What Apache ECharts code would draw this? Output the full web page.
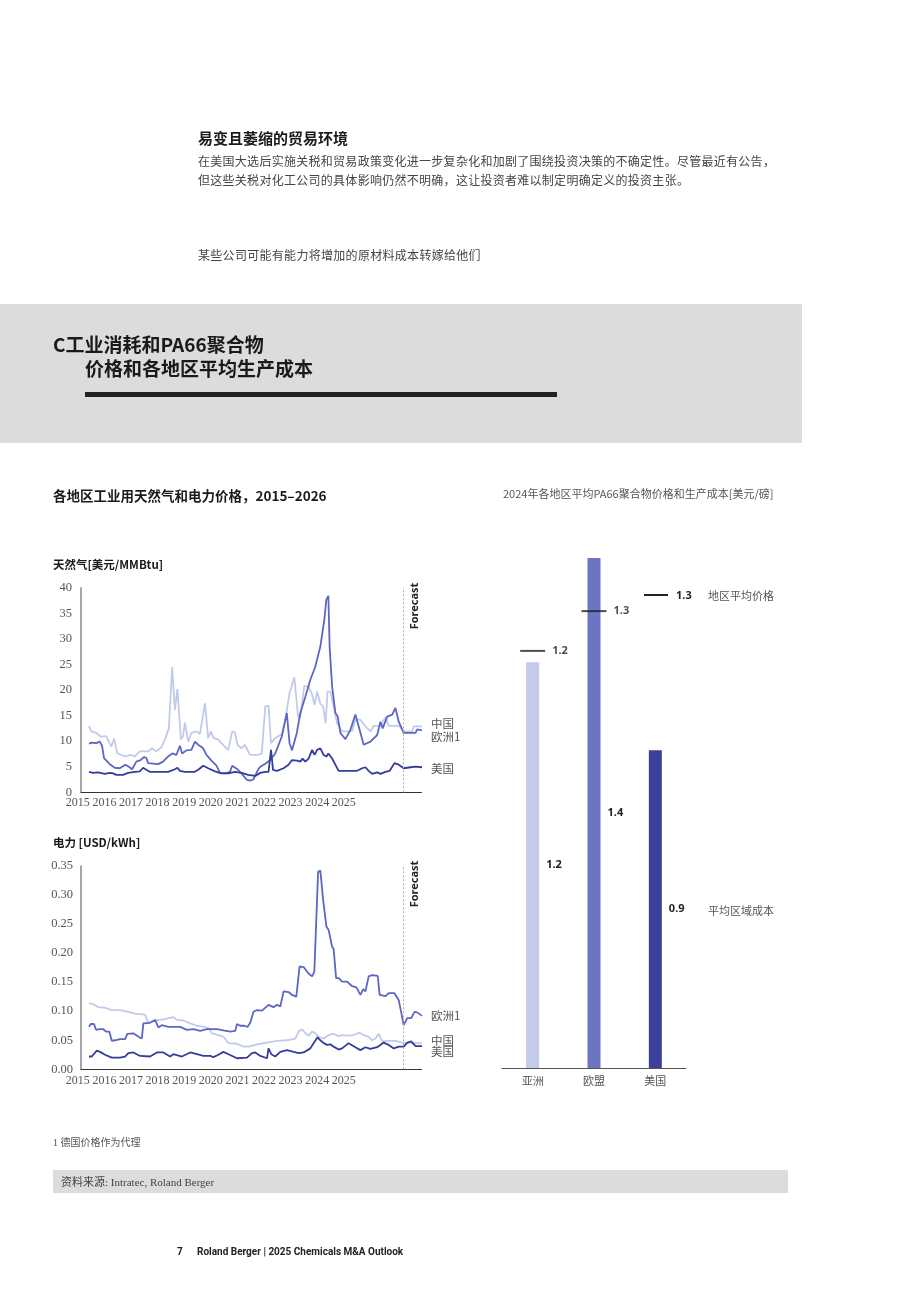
<!DOCTYPE html>
<html><head><meta charset="utf-8">
<script src="https://cdn.jsdelivr.net/npm/echarts@6/dist/echarts.min.js"></script>
<style>
html,body{margin:0;padding:0;background:#fff;}
body{width:920px;height:1302px;position:relative;overflow:hidden;font-family:"Noto Sans CJK SC","Noto Sans",sans-serif;}
.t{position:absolute;white-space:nowrap;z-index:3;}
.band{position:absolute;background:#dcdcdc;z-index:1;}
#chart{position:absolute;left:0;top:0;width:920px;height:1302px;z-index:2;}
</style></head>
<body>
<div class="t" style="left:198px;top:128px;font-size:15px;line-height:20px;font-weight:700;color:#1a1a1a;">易变且萎缩的贸易环境</div>
<div class="t" style="left:198px;top:151px;font-size:12px;line-height:19px;color:#444;letter-spacing:0.28px;">在美国大选后实施关税和贸易政策变化进一步复杂化和加剧了围绕投资决策的不确定性。尽管最近有公告，<br>但这些关税对化工公司的具体影响仍然不明确，这让投资者难以制定明确定义的投资主张。</div>
<div class="t" style="left:198px;top:245px;font-size:12px;line-height:19px;color:#444;letter-spacing:0.3px;">某些公司可能有能力将增加的原材料成本转嫁给他们</div>
<div class="band" style="left:0;top:304px;width:802px;height:139px;"></div>
<div class="t" style="left:53px;top:332px;font-size:19px;line-height:24px;font-weight:700;color:#1a1a1a;">C工业消耗和PA66聚合物</div>
<div class="t" style="left:85px;top:356px;font-size:19px;line-height:24px;font-weight:700;color:#1a1a1a;">价格和各地区平均生产成本</div>
<div class="t" style="left:85px;top:392px;width:472px;height:5px;background:#222;"></div>
<div class="t" style="left:53px;top:1136px;font-size:10px;line-height:14px;color:#555;font-family:'Liberation Serif','Noto Sans CJK SC',serif;">1 德国价格作为代理</div>
<div class="band" style="left:53px;top:1170px;width:735px;height:23px;"></div>
<div class="t" style="left:61px;top:1174px;font-size:11px;line-height:16px;color:#444;font-family:'Liberation Serif','Noto Sans CJK SC',serif;">资料来源: Intratec, Roland Berger</div>
<div class="t" style="left:177px;top:1245px;font-size:10px;line-height:14px;font-weight:700;color:#222;font-family:'Liberation Sans Narrow','Roboto','Noto Sans',sans-serif;">7</div>
<div class="t" style="left:197px;top:1245px;font-size:10px;line-height:14px;font-weight:700;color:#222;font-family:'Liberation Sans Narrow','Roboto','Noto Sans',sans-serif;">Roland Berger | 2025 Chemicals M&amp;A Outlook</div>
<div id="chart"></div>
<script>
// ---- data (x = months since Jan 2015) ----
const yearLabels = [2015, 2016, 2017, 2018, 2019, 2020, 2021, 2022, 2023, 2024, 2025];
const forecastStartMonth = 125.7;
const seriesNames = ['中国', '欧洲1', '美国'];

const gasChina = [[0,13.0],[0.9,11.9],[2.9,11.6],[4.7,10.9],[6.9,11.0],[8.9,8.9],[10,10.5],[11.3,7.6],[14.3,7.0],[16.9,7.3],[18.3,7.0],[20.3,8.0],[23.6,8.0],[25.2,8.6],[26.9,8.0],[28.9,8.8],[30.3,10.3],[31.9,12.5],[33.2,24.5],[34.3,16.1],[35.3,20.2],[36.7,10.3],[37.5,10.9],[38.3,13.6],[39.6,9.9],[40.9,11.6],[42.9,11.9],[44.3,11.4],[46.3,17.4],[47.6,10.6],[48.7,11.9],[49.6,10.7],[51.6,10.3],[54.3,8.9],[55.6,8.3],[57.2,11.9],[58.3,11.7],[59.3,9.3],[60.9,8.6],[62.2,9.3],[64.3,7.3],[67.6,7.3],[69,7.6],[70.4,16.8],[71.7,16.9],[72.7,9.6],[74.4,10.6],[77.1,11.4],[78.4,14.2],[80.1,19.4],[82,22.5],[83.5,14.8],[84.4,14.7],[86,20.8],[87.7,20.6],[89.1,19.1],[90.1,17.1],[91.1,19.7],[92.4,17.3],[93.5,16.8],[94.5,13.5],[95.3,19.7],[96.4,19.7],[97.7,16.8],[99.1,13.5],[101.1,11.9],[103.1,11.9],[105.1,12.0],[106.4,14.2],[108.4,14.2],[110.4,12.9],[112.4,11.9],[113.7,13.0],[116.4,13.0],[118.4,14.7],[119.7,13.0],[123.7,13.0],[125.7,11.9],[129.1,11.9],[129.7,12.9],[133,12.9]];
const gasEurope = [[0,9.5],[0.9,9.7],[2.9,9.6],[4.3,9.9],[5.2,9.1],[6,6.7],[8.3,5.5],[10.3,4.8],[12.3,4.7],[14.5,5.4],[15.9,5.0],[17.2,4.5],[18.9,6.0],[20.6,6.3],[22,6.9],[22.9,6.7],[23.6,5.7],[27.6,5.5],[29.6,6.0],[31.6,7.0],[33.3,7.6],[34.9,7.3],[36.3,9.1],[37.2,7.6],[38.9,8.2],[40.9,8.3],[42.3,9.9],[43.6,9.3],[45.6,8.6],[46.9,7.3],[48.9,6.2],[50.9,5.2],[52.3,3.8],[54.3,3.7],[56.3,4.0],[57.2,5.2],[59.3,4.5],[60.9,3.7],[62.9,2.5],[64.3,2.3],[65.6,2.5],[67.6,4.5],[68.4,5.0],[70.4,5.6],[72.4,6.3],[74.4,7.6],[77,10.9],[79,15.5],[80.1,9.6],[81.1,8.2],[83,11.6],[84.4,15.5],[86.4,18.7],[88.4,22.0],[90.4,24.6],[92.4,28.5],[94,33.8],[94.8,37.7],[95.6,38.4],[96.1,28.5],[97.1,20.7],[98.4,15.5],[99.3,14.9],[100.4,11.6],[102.4,10.4],[104.4,12.2],[106.4,15.2],[107.7,12.9],[109.7,9.3],[112.4,9.9],[115.1,11.2],[116.4,13.8],[117.3,12.5],[119.1,14.8],[121.1,15.2],[122.4,16.5],[123.7,13.8],[125.7,11.6],[130.4,11.6],[131.1,12.3],[133,12.1]];
const gasUS = [[0,4.0],[1.6,3.8],[3.6,3.9],[6.3,3.6],[8.3,3.8],[9.6,3.7],[10.9,3.4],[13.6,3.4],[15.6,3.8],[18.3,4.0],[20.3,4.1],[21.6,4.8],[22.9,4.4],[24.3,4.0],[31.6,4.0],[34.3,4.5],[35.3,4.8],[36.3,4.2],[38.3,4.0],[42.3,4.0],[43.9,4.5],[45.6,5.2],[47.6,4.7],[50.3,4.1],[52.9,3.7],[55.6,3.7],[58.3,4.0],[60.9,3.8],[63.6,3.4],[66.4,3.2],[68.4,3.8],[70.4,4.0],[71.7,4.0],[72.7,8.3],[73.5,4.4],[75.1,4.2],[77.7,4.7],[79.7,5.4],[81.1,6.3],[83.1,6.2],[84.4,6.0],[85.3,6.6],[86.4,6.0],[87.7,6.6],[89.1,8.3],[90.1,7.3],[91.1,8.3],[92.4,8.6],[93.7,7.3],[94.8,7.0],[95.6,7.6],[97.1,6.6],[99.7,4.2],[107.1,4.2],[109.1,4.7],[110.4,4.9],[111.7,4.2],[113.1,3.6],[115.1,3.9],[116.4,3.6],[118.4,4.0],[120.1,4.2],[122,5.7],[123.7,5.4],[125.7,4.7],[128.4,4.9],[130.4,5.0],[133,4.9]];

const elecChina = [[0,0.114],[1.7,0.112],[3.7,0.107],[6.4,0.106],[9.1,0.102],[12.4,0.102],[15.7,0.099],[18.4,0.096],[20.4,0.095],[22.4,0.094],[23.7,0.080],[26.4,0.084],[29.7,0.086],[31.7,0.088],[33.7,0.090],[35.1,0.085],[37.7,0.084],[40.4,0.079],[43.1,0.075],[45.7,0.073],[47.7,0.071],[49.1,0.062],[51.7,0.059],[53.7,0.056],[55.7,0.045],[59.1,0.044],[61.7,0.039],[63.7,0.039],[67.1,0.043],[71.1,0.046],[75.1,0.049],[79.1,0.050],[82.4,0.053],[83.7,0.065],[85.1,0.069],[86.4,0.062],[87.7,0.058],[89.1,0.065],[90.4,0.062],[91.7,0.056],[93.7,0.053],[95.7,0.059],[97.7,0.061],[99.7,0.057],[101.1,0.059],[103.1,0.058],[105.7,0.059],[108.1,0.063],[109.7,0.059],[111.7,0.056],[113.1,0.050],[114.4,0.053],[115.7,0.061],[117.1,0.048],[119.7,0.049],[122.4,0.049],[125.1,0.046],[127.1,0.045],[133,0.045]];
const elecEurope = [[0,0.073],[0.7,0.078],[2,0.078],[2.8,0.068],[4.4,0.069],[5.7,0.069],[6.8,0.065],[8.1,0.065],[9.1,0.049],[10.4,0.050],[12.4,0.052],[14.4,0.052],[15.3,0.061],[17.7,0.062],[20.1,0.055],[21.1,0.053],[21.7,0.079],[24.4,0.080],[26.4,0.085],[27.7,0.072],[29.1,0.076],[31.7,0.073],[36.4,0.073],[39.1,0.068],[41.7,0.069],[44.4,0.066],[47.1,0.069],[51.1,0.069],[53.7,0.067],[56.4,0.065],[58.4,0.066],[59.1,0.078],[60.4,0.075],[62,0.075],[63.3,0.073],[64.4,0.080],[65.7,0.099],[67.1,0.102],[69.1,0.101],[71.7,0.111],[73.7,0.107],[75.1,0.111],[76.4,0.108],[77.7,0.134],[79.7,0.133],[81.1,0.128],[82.8,0.125],[84.1,0.177],[85.7,0.176],[87.7,0.165],[89.1,0.160],[90,0.168],[91.5,0.340],[92.4,0.342],[93.5,0.292],[94.8,0.246],[95.7,0.240],[97.1,0.211],[97.7,0.207],[98.7,0.157],[99.7,0.157],[101.1,0.151],[103.1,0.151],[105.1,0.143],[106.8,0.141],[108.4,0.128],[109.5,0.138],[110.4,0.134],[111.7,0.160],[113.1,0.162],[115.3,0.161],[116.1,0.128],[118.4,0.126],[119.7,0.131],[122,0.131],[123.7,0.119],[125.7,0.076],[127.1,0.088],[128.7,0.088],[130,0.099],[131.1,0.098],[133,0.092]];
const elecUS = [[0,0.022],[1.1,0.022],[3.1,0.032],[4.4,0.030],[6.4,0.025],[9.1,0.020],[12.4,0.020],[14.4,0.022],[15.7,0.028],[17.7,0.029],[20.4,0.023],[24.4,0.022],[27.1,0.029],[29.7,0.029],[32.4,0.022],[33.7,0.026],[37.1,0.022],[40.4,0.029],[43.1,0.026],[45.7,0.023],[48.4,0.023],[49.7,0.021],[51.7,0.025],[53.7,0.030],[55.7,0.026],[59.1,0.019],[63.1,0.020],[65.1,0.028],[66.4,0.029],[68.4,0.023],[71.1,0.019],[71.7,0.036],[72.8,0.026],[74.4,0.022],[76.4,0.030],[79.1,0.033],[81.7,0.030],[83.7,0.028],[85.7,0.029],[88.4,0.036],[89.7,0.045],[91.3,0.055],[92.4,0.050],[93.7,0.045],[95.1,0.042],[96.4,0.043],[97.7,0.039],[99.7,0.034],[101.1,0.036],[103.7,0.045],[106.4,0.038],[108.4,0.033],[110.4,0.038],[112.4,0.035],[115.1,0.038],[117.7,0.046],[119.7,0.042],[121.7,0.036],[123.7,0.039],[125.7,0.039],[127.1,0.046],[128.7,0.048],[130.4,0.040],[133,0.040]];

const barCategories = ['亚洲', '欧盟', '美国'];
const avgCost = [1.153, 1.449, 0.903];
const avgPrice = [[0, 1.185], [1, 1.298]];
const legendPriceSample = 1.3;
const legendPriceText = '地区平均价格';
const legendCostText = '平均区域成本';

// ---- styling ----
const C_LIGHT = '#c2caeb', C_MED = '#5c67c4', C_DARK = '#363c9c';
const BAR_COLORS = ['#c4cbea', '#6c75c2', '#3c409b'];
const SERIF = "'Liberation Serif','Noto Serif',serif";
const SANS = "'Noto Sans CJK SC','Noto Sans',sans-serif";

const chart = echarts.init(document.getElementById('chart'), null, {renderer: 'canvas', width: 920, height: 1302});

function mainX(gi) {
  return {gridIndex: gi, type: 'value', min: -3.2, max: 132.8, position: 'bottom',
    axisLine: {show: true, onZero: false, lineStyle: {color: '#333', width: 1}}, axisTick: {show: false},
    axisLabel: {show: false}, splitLine: {show: false}};
}
function labelX(gi, margin) {
  return {gridIndex: gi, type: 'value', min: 2014.5, max: 2026, position: 'bottom',
    axisLine: {show: false, onZero: false}, axisTick: {show: false}, splitLine: {show: false},
    axisLabel: {show: true, customValues: yearLabels, formatter: v => String(v), margin: margin,
      fontFamily: SERIF, fontSize: 12, color: '#555'}};
}
function mainY(gi, max, interval, margin, fmt) {
  return {gridIndex: gi, type: 'value', min: 0, max: max, interval: interval, position: 'left',
    axisLine: {show: true, onZero: false, lineStyle: {color: '#888', width: 1.5}}, axisTick: {show: false}, splitLine: {show: false},
    axisLabel: {fontFamily: SERIF, fontSize: 12.5, color: '#555', margin: margin, formatter: fmt}};
}
function lineSeries(name, data, color, xi, yi, dy, withForecast) {
  const s = {type: 'line', name: name, data: data, xAxisIndex: xi, yAxisIndex: yi,
    showSymbol: false, symbol: 'none', smooth: false, silent: true,
    lineStyle: {color: color, width: 1.8}, itemStyle: {color: color},
    endLabel: {show: true, formatter: name, color: '#555', fontSize: 11.5, fontFamily: SANS,
      distance: 9, offset: [0, dy]}};
  if (withForecast) {
    s.markLine = {silent: true, symbol: ['none', 'none'], label: {show: false},
      lineStyle: {type: [2, 2], color: '#aaa', width: 1}, data: [{xAxis: forecastStartMonth}]};
  }
  return s;
}
function forecastText(cy) {
  return {type: 'text', x: 415, y: cy, rotation: Math.PI / 2,
    style: {text: 'Forecast', font: "700 11px 'Noto Sans','DejaVu Sans',sans-serif", fill: '#222', align: 'center', verticalAlign: 'middle'}};
}
function txt(x, y, text, font, fill, align) {
  return {type: 'text', x: x, y: y, style: {text: text, font: font, fill: fill || '#222', align: align || 'left', verticalAlign: 'middle'}};
}

const option = {
  animation: false,
  backgroundColor: 'transparent',
  grid: [
    {left: 81, top: 587.7, width: 340.5, height: 204.6},
    {left: 81, top: 866, width: 340.5, height: 203.3},
    {left: 64.5, top: 587.7, width: 305.9, height: 204.6},
    {left: 64.5, top: 866, width: 305.9, height: 203.3},
    {left: 502, top: 540, width: 184, height: 528}
  ],
  xAxis: [
    mainX(0), mainX(1), labelX(2, 5), labelX(3, 6),
    {gridIndex: 4, type: 'category', data: barCategories,
      axisLine: {show: true, lineStyle: {color: '#555', width: 1}}, axisTick: {show: false},
      axisLabel: {fontSize: 11, color: '#555', fontFamily: SANS, margin: 7}}
  ],
  yAxis: [
    mainY(0, 40, 5, 9, v => String(v)),
    mainY(1, 0.35, 0.05, 8, v => v.toFixed(2)),
    {gridIndex: 2, type: 'value', min: 0, max: 1, show: false},
    {gridIndex: 3, type: 'value', min: 0, max: 1, show: false},
    {gridIndex: 4, type: 'value', min: 0, max: 1.5, show: false}
  ],
  series: [
    lineSeries(seriesNames[0], gasChina, C_LIGHT, 0, 0, -2.5, false),
    lineSeries(seriesNames[1], gasEurope, C_MED, 0, 0, 6.5, false),
    lineSeries(seriesNames[2], gasUS, C_DARK, 0, 0, 1, true),
    lineSeries(seriesNames[0], elecChina, C_LIGHT, 1, 1, -3, false),
    lineSeries(seriesNames[1], elecEurope, C_MED, 1, 1, 0, false),
    lineSeries(seriesNames[2], elecUS, C_DARK, 1, 1, 5.6, true),
    {type: 'bar', xAxisIndex: 4, yAxisIndex: 4, barWidth: 13, silent: true,
      data: avgCost.map((v, i) => ({value: v, itemStyle: {color: BAR_COLORS[i]}})),
      label: {show: true, position: 'right', distance: 7, formatter: p => p.value.toFixed(1),
        fontSize: 11, fontWeight: 700, color: '#222', fontFamily: "'Noto Sans',sans-serif"}},
    {type: 'scatter', xAxisIndex: 4, yAxisIndex: 4, silent: true, symbol: 'rect', symbolSize: [25, 2],
      itemStyle: {color: '#222'}, data: avgPrice,
      label: {show: true, position: 'right', distance: 7, formatter: p => p.value[1].toFixed(1),
        fontSize: 11, fontWeight: 700, color: '#222', fontFamily: "'Noto Sans',sans-serif"}}
  ],
  graphic: [
    txt(53, 496, '各地区工业用天然气和电力价格，2015–2026', "700 13.5px 'Noto Sans CJK SC',sans-serif", '#1a1a1a'),
    txt(53, 564.5, '天然气[美元/MMBtu]', "700 11.5px 'Noto Sans CJK SC',sans-serif", '#1a1a1a'),
    txt(53, 843, '电力 [USD/kWh]', "700 11.5px 'Noto Sans CJK SC',sans-serif", '#1a1a1a'),
    txt(503, 494, '2024年各地区平均PA66聚合物价格和生产成本[美元/磅]', "400 11px 'Noto Sans CJK SC',sans-serif", '#555'),
    forecastText(606),
    forecastText(884),
    {type: 'line', shape: {x1: 644, y1: 595, x2: 668, y2: 595}, style: {stroke: '#222', lineWidth: 2}},
    txt(676, 596, legendPriceSample.toFixed(1), "700 11px 'Noto Sans',sans-serif", '#222'),
    txt(708, 596, legendPriceText, "400 11px 'Noto Sans CJK SC',sans-serif", '#555'),
    txt(708, 911, legendCostText, "400 11px 'Noto Sans CJK SC',sans-serif", '#555')
  ]
};
chart.setOption(option);
</script>
</body></html>
